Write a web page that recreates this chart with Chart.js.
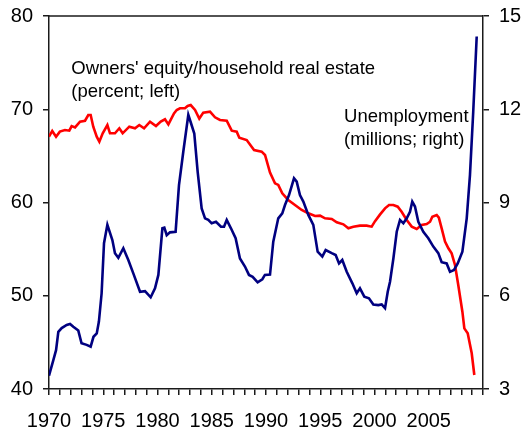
<!DOCTYPE html>
<html>
<head>
<meta charset="utf-8">
<script src="https://cdn.jsdelivr.net/npm/chart.js@4.4.1/dist/chart.umd.min.js"></script>
<style>
html,body{margin:0;padding:0;background:#fff;}
#wrap{width:527px;height:433px;position:relative;}
</style>
</head>
<body>
<div id="wrap"><canvas id="c" width="527" height="433"></canvas></div>
<script>
// Unemployment, millions (right axis)
const unempYears = [1970.0,1970.4,1970.65,1970.86,1971.17,1971.63,1971.94,1972.24,1972.7,1973.0,1973.47,1973.84,1974.1,1974.4,1974.6,1974.85,1975.07,1975.38,1975.84,1976.08,1976.39,1976.85,1977.31,1977.77,1978.39,1978.85,1979.37,1979.77,1980.08,1980.45,1980.63,1980.85,1981.15,1981.67,1981.98,1982.38,1982.84,1983.09,1983.39,1983.7,1984.07,1984.38,1984.68,1984.99,1985.39,1985.85,1986.13,1986.38,1986.77,1987.2,1987.6,1988.06,1988.43,1988.77,1989.23,1989.66,1989.9,1990.37,1990.67,1991.13,1991.5,1991.75,1992.12,1992.58,1992.83,1993.13,1993.44,1993.9,1994.36,1994.76,1995.19,1995.5,1996.06,1996.42,1996.73,1997.03,1997.44,1997.96,1998.36,1998.66,1999.06,1999.49,1999.89,2000.35,2000.66,2000.97,2001.22,2001.43,2001.74,2002.05,2002.35,2002.66,2002.97,2003.27,2003.48,2003.73,2004.04,2004.5,2004.96,2005.42,2005.88,2006.19,2006.65,2006.96,2007.33,2007.67,2008.1,2008.5,2008.8,2009.1,2009.42];
const unempValues = [3.43,3.93,4.25,4.84,4.96,5.06,5.09,5.0,4.88,4.47,4.42,4.36,4.68,4.79,5.17,6.08,7.69,8.28,7.79,7.37,7.22,7.53,7.15,6.72,6.13,6.15,5.95,6.24,6.67,8.17,8.19,7.95,8.04,8.06,9.56,10.64,11.82,11.55,11.22,9.99,8.81,8.49,8.44,8.33,8.38,8.22,8.22,8.44,8.17,7.85,7.2,6.94,6.67,6.61,6.43,6.53,6.67,6.68,7.74,8.49,8.65,8.92,9.24,9.78,9.67,9.24,9.03,8.6,8.28,7.42,7.26,7.47,7.37,7.31,7.04,7.15,6.77,6.4,6.08,6.24,5.97,5.92,5.72,5.7,5.72,5.6,6.13,6.45,7.2,8.06,8.44,8.33,8.49,8.7,9.03,8.87,8.38,8.06,7.85,7.58,7.37,7.08,7.04,6.77,6.83,7.04,7.42,8.49,9.89,11.92,14.34];

// Owners' equity / household real estate, percent (left axis)
const equityYears = [1970.0,1970.3,1970.65,1971.0,1971.47,1971.87,1972.09,1972.4,1972.86,1973.32,1973.62,1973.84,1974.08,1974.4,1974.64,1974.95,1975.38,1975.62,1976.08,1976.48,1976.79,1977.4,1977.93,1978.32,1978.76,1979.31,1979.86,1980.3,1980.69,1981.0,1981.52,1981.77,1982.07,1982.53,1982.78,1983.06,1983.46,1983.85,1984.22,1984.84,1985.3,1985.76,1986.38,1986.84,1987.3,1987.54,1988.22,1988.9,1989.6,1989.91,1990.37,1990.83,1991.13,1991.5,1992.05,1992.67,1993.29,1993.9,1994.52,1994.98,1995.44,1996.06,1996.52,1997.13,1997.59,1998.05,1998.66,1999.28,1999.74,2000.05,2000.5,2000.97,2001.34,2001.74,2002.14,2002.5,2002.97,2003.43,2003.89,2004.35,2004.81,2005.12,2005.33,2005.73,2005.93,2006.19,2006.5,2006.81,2007.11,2007.42,2007.72,2008.1,2008.28,2008.59,2008.96,2009.2];
const equityValues = [67.06,67.67,67.06,67.6,67.77,67.7,68.2,68.06,68.67,68.77,69.38,69.38,68.13,67.06,66.52,67.42,68.31,67.42,67.42,67.96,67.42,68.13,67.96,68.31,67.96,68.67,68.2,68.67,68.92,68.38,69.56,69.92,70.1,70.1,70.35,70.45,69.92,69.0,69.64,69.74,69.14,68.85,68.77,67.7,67.6,66.95,66.7,65.63,65.45,65.1,63.2,62.06,61.88,60.98,60.27,59.73,59.2,58.84,58.55,58.59,58.3,58.23,57.87,57.66,57.23,57.41,57.52,57.52,57.41,58.0,58.7,59.37,59.73,59.73,59.55,59.01,58.12,57.41,57.16,57.59,57.69,57.94,58.48,58.66,58.37,57.23,55.8,55.09,54.55,53.3,51.15,48.29,46.5,45.97,43.83,41.5];

// Axis ticks
const xTickLabels = [1970,1975,1980,1985,1990,1995,2000,2005];
const leftTicks = [40,50,60,70,80];
const rightTicks = [3,6,9,12,15];

const FONT = "'Liberation Sans', Arial, sans-serif";
const AXIS = '#1a1a1a';

const annotations = {
  id: 'annotations',
  afterDraw(chart) {
    const ctx = chart.ctx;
    const ca = chart.chartArea;
    ctx.save();
    ctx.strokeStyle = AXIS;
    ctx.lineWidth = 1.5;
    ctx.beginPath();
    ctx.moveTo(ca.left, ca.top);
    ctx.lineTo(ca.right, ca.top);
    ctx.stroke();
    ctx.fillStyle = '#000';
    ctx.font = '18.5px ' + FONT;
    ctx.textBaseline = 'alphabetic';
    ctx.textAlign = 'left';
    const x = chart.scales.x, yl = chart.scales.yL;
    ctx.fillText("Owners' equity/household real estate", x.getPixelForValue(1972.05), yl.getPixelForValue(73.8));
    ctx.fillText("(percent; left)", x.getPixelForValue(1972.05), yl.getPixelForValue(71.35));
    ctx.fillText("Unemployment", x.getPixelForValue(1997.2), yl.getPixelForValue(68.6));
    ctx.fillText("(millions; right)", x.getPixelForValue(1997.2), yl.getPixelForValue(66.15));
    ctx.restore();
  }
};

function fitY(w) {
  return s => { s.width = w; s.paddingTop = 0; s.paddingBottom = 0; };
}

new Chart(document.getElementById('c'), {
  type: 'line',
  data: {
    datasets: [
      {
        label: 'Unemployment',
        data: unempYears.map((yr, i) => ({x: yr, y: unempValues[i]})),
        yAxisID: 'yR',
        borderColor: '#000080',
        borderWidth: 2.6,
        pointRadius: 0,
        tension: 0,
        fill: false
      },
      {
        label: "Owners' equity",
        data: equityYears.map((yr, i) => ({x: yr, y: equityValues[i]})),
        yAxisID: 'yL',
        borderColor: '#ff0000',
        borderWidth: 2.6,
        pointRadius: 0,
        tension: 0,
        fill: false
      }
    ]
  },
  options: {
    responsive: false,
    animation: false,
    layout: {padding: {top: 16, left: 0, right: 0, bottom: 0}},
    plugins: {legend: {display: false}, tooltip: {enabled: false}},
    scales: {
      x: {
        type: 'linear',
        min: 1970, max: 2010,
        border: {display: true, color: AXIS, width: 1.5},
        grid: {display: true, drawOnChartArea: false, drawTicks: true, tickLength: 6, color: AXIS, lineWidth: 1.5},
        ticks: {
          stepSize: 1, autoSkip: false, maxRotation: 0, minRotation: 0, padding: 14,
          color: '#000', font: {family: FONT, size: 20},
          callback: v => xTickLabels.includes(v) ? String(v) : ''
        },
        afterFit: s => { s.height = 44; s.paddingLeft = 0; s.paddingRight = 0; }
      },
      yL: {
        position: 'left',
        min: 40, max: 80,
        border: {display: true, color: AXIS, width: 1.5},
        grid: {display: true, drawOnChartArea: false, drawTicks: true, tickLength: 6, color: AXIS, lineWidth: 1.5},
        ticks: {
          stepSize: 10, padding: 10, color: '#000', font: {family: FONT, size: 20},
          callback: v => leftTicks.includes(v) ? String(v) : ''
        },
        afterFit: fitY(49)
      },
      yR: {
        position: 'right',
        min: 3, max: 15,
        border: {display: true, color: AXIS, width: 1.5},
        grid: {display: true, drawOnChartArea: false, drawTicks: true, tickLength: 6, color: AXIS, lineWidth: 1.5},
        ticks: {
          stepSize: 3, padding: 10, color: '#000', font: {family: FONT, size: 20},
          callback: v => rightTicks.includes(v) ? String(v) : ''
        },
        afterFit: fitY(44)
      }
    }
  },
  plugins: [annotations]
});
</script>
</body>
</html>
